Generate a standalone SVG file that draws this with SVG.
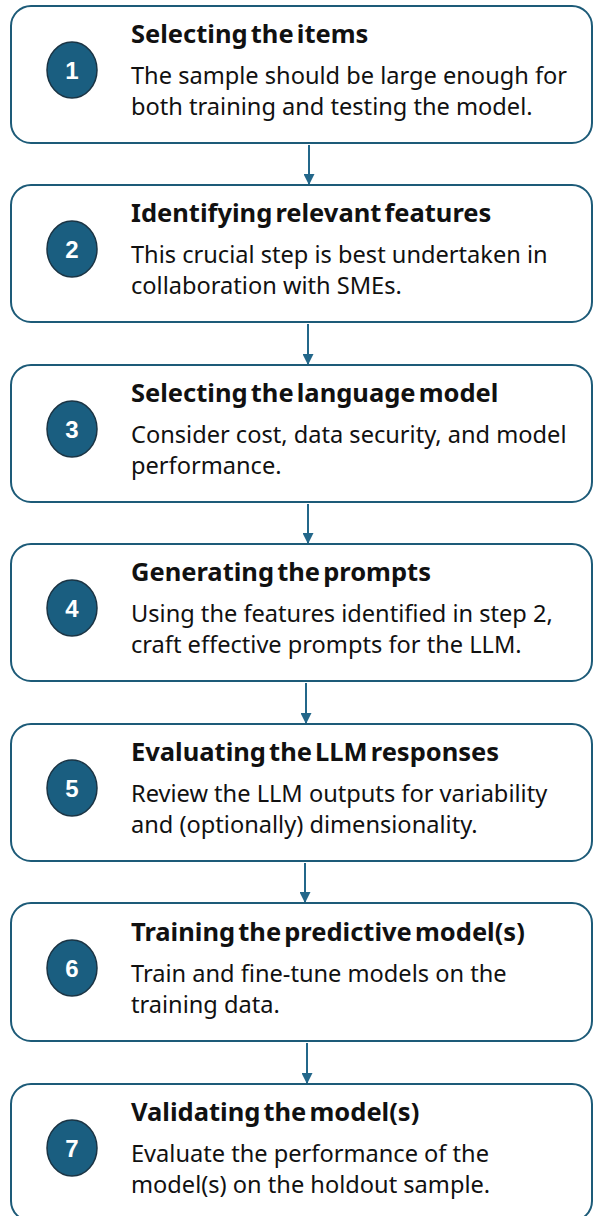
<svg xmlns="http://www.w3.org/2000/svg" width="593" height="1216" viewBox="0 0 593 1216">
<style>
.box{fill:#fff;stroke:#1d5b78;stroke-width:2}
.num{fill:#1a5e80;stroke:#1a3444;stroke-width:1.5}
.nt{font-family:"Liberation Sans",Arial,sans-serif;font-weight:bold;font-size:24px;fill:#fff;text-anchor:middle}
.tt{font-family:"Noto Sans",sans-serif;font-weight:bold;font-size:25.5px;fill:#111;word-spacing:-3.5px}
.bt{font-family:"Noto Sans",sans-serif;font-size:23.6px;fill:#111}
.con{stroke:#23678a;stroke-width:2;fill:none}
</style>
<defs>
<marker id="ah" markerWidth="11" markerHeight="11" refX="10" refY="5.5" orient="auto" markerUnits="userSpaceOnUse" viewBox="0 0 11 11">
<path d="M0,0 L11,5.5 L0,11 Z" fill="#23678a"/>
</marker>
</defs>
<g id="connectors">
<path class="con" d="M309,145 V184" marker-end="url(#ah)"/>
<path class="con" d="M308,324 V364" marker-end="url(#ah)"/>
<path class="con" d="M308,504 V543" marker-end="url(#ah)"/>
<path class="con" d="M306,683 V723" marker-end="url(#ah)"/>
<path class="con" d="M305,863 V902" marker-end="url(#ah)"/>
<path class="con" d="M307,1043 V1083" marker-end="url(#ah)"/>
</g>
<g id="step1">
<rect class="box" x="11" y="6" width="581" height="137" rx="20"/>
<ellipse class="num" cx="72" cy="70" rx="25" ry="28"/>
<text class="nt" x="72" y="79">1</text>
<text class="tt" x="131" y="43">Selecting the items</text>
<text class="bt" x="131" y="84">The sample should be large enough for</text>
<text class="bt" x="131" y="115">both training and testing the model.</text>
</g>
<g id="step2">
<rect class="box" x="11" y="185" width="581" height="137" rx="20"/>
<ellipse class="num" cx="72" cy="249" rx="25" ry="28"/>
<text class="nt" x="72" y="258">2</text>
<text class="tt" x="131" y="222">Identifying relevant features</text>
<text class="bt" x="131" y="263">This crucial step is best undertaken in</text>
<text class="bt" x="131" y="294">collaboration with SMEs.</text>
</g>
<g id="step3">
<rect class="box" x="11" y="365" width="581" height="137" rx="20"/>
<ellipse class="num" cx="72" cy="429" rx="25" ry="28"/>
<text class="nt" x="72" y="438">3</text>
<text class="tt" x="131" y="402">Selecting the language model</text>
<text class="bt" x="131" y="443">Consider cost, data security, and model</text>
<text class="bt" x="131" y="474">performance.</text>
</g>
<g id="step4">
<rect class="box" x="11" y="544" width="581" height="137" rx="20"/>
<ellipse class="num" cx="72" cy="608" rx="25" ry="28"/>
<text class="nt" x="72" y="617">4</text>
<text class="tt" x="131" y="581">Generating the prompts</text>
<text class="bt" x="131" y="622">Using the features identified in step 2,</text>
<text class="bt" x="131" y="653">craft effective prompts for the LLM.</text>
</g>
<g id="step5">
<rect class="box" x="11" y="724" width="581" height="137" rx="20"/>
<ellipse class="num" cx="72" cy="788" rx="25" ry="28"/>
<text class="nt" x="72" y="797">5</text>
<text class="tt" x="131" y="761">Evaluating the LLM responses</text>
<text class="bt" x="131" y="802">Review the LLM outputs for variability</text>
<text class="bt" x="131" y="833">and (optionally) dimensionality.</text>
</g>
<g id="step6">
<rect class="box" x="11" y="903" width="581" height="138" rx="20"/>
<ellipse class="num" cx="72" cy="968" rx="25" ry="28"/>
<text class="nt" x="72" y="977">6</text>
<text class="tt" x="131" y="941">Training the predictive model(s)</text>
<text class="bt" x="131" y="982">Train and fine-tune models on the</text>
<text class="bt" x="131" y="1013">training data.</text>
</g>
<g id="step7">
<rect class="box" x="11" y="1084" width="581" height="137" rx="20"/>
<ellipse class="num" cx="72" cy="1148" rx="25" ry="28"/>
<text class="nt" x="72" y="1157">7</text>
<text class="tt" x="131" y="1121">Validating the model(s)</text>
<text class="bt" x="131" y="1162">Evaluate the performance of the</text>
<text class="bt" x="131" y="1193">model(s) on the holdout sample.</text>
</g>
</svg>
